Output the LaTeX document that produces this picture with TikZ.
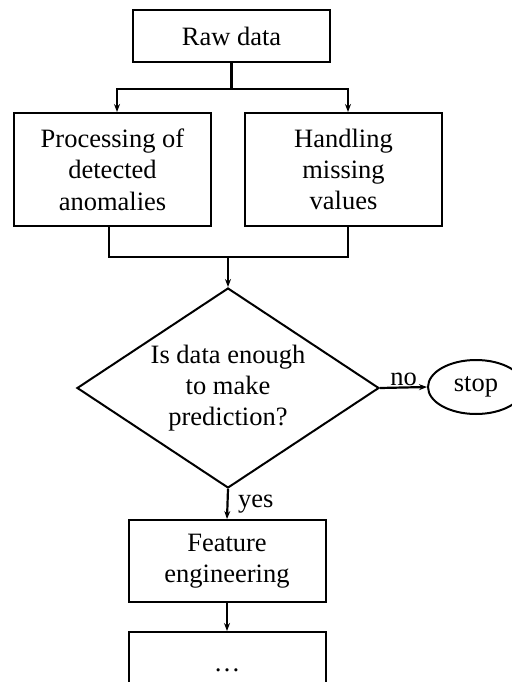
\documentclass[tikz,border=0pt]{standalone}
\usepackage{fontspec}
\setmainfont{Liberation Serif}
\usetikzlibrary{shapes.geometric,arrows.meta}
\begin{document}
\begin{tikzpicture}[x=1pt,y=-1pt,
    font=\fontsize{26.5}{31.3}\selectfont,
    box/.style={draw,line width=2pt,rectangle,minimum width=197pt,align=center,inner sep=0pt},
    cond/.style={draw,line width=2pt,diamond,shape aspect=1.5,minimum width=302pt,minimum height=200pt,align=center,inner sep=0pt},
    term/.style={draw,line width=2pt,ellipse,minimum width=96pt,minimum height=54pt,inner sep=0pt},
    line/.style={line width=2.2pt},
    arr/.style={line width=2.2pt,-{Stealth[length=8pt,width=6pt]}}]
                \useasboundingbox (0,0) rectangle (511,682);
                \node [box,minimum height=52pt] (raw) at (231.5,36) {Raw data};
                \node [box,minimum height=113pt] (proc) at (112.5,169.5) {Processing of\\detected\\anomalies};
                \node [box,minimum height=113pt] (miss) at (343.5,169.5) {Handling\\missing\\values};
                \node [cond] (dec) at (228,388) {Is data enough\\to make\\prediction?};
                \node [term] (stop) at (476,387) {stop};
                \node [box,minimum height=82pt] (feat) at (227,561) {Feature\\engineering};
                \node [box,minimum height=76pt] (next) at (227,670) {\dots};
                \draw [arr] (raw.south) -- ++(0,26) coordinate (split) -| ([xshift=4.5pt]proc.north);
                \draw [arr] (split) -| ([xshift=4.5pt]miss.north);
                \coordinate (join) at (228,257);
                \draw [line] ([xshift=-3.5pt]proc.south) |- (join) -| ([xshift=4.5pt]miss.south);
                \draw [arr] (join) -- (dec.north);
                \draw [arr] (dec.east) -- node[above,inner sep=1pt] {no} (stop.west);
                \draw [arr] (dec.south) -- node[right,pos=0.4,xshift=6pt,yshift=-3pt] {yes} (feat.north);
                \draw [arr] (feat.south) -- (next.north);
            \end{tikzpicture}
\end{document}
